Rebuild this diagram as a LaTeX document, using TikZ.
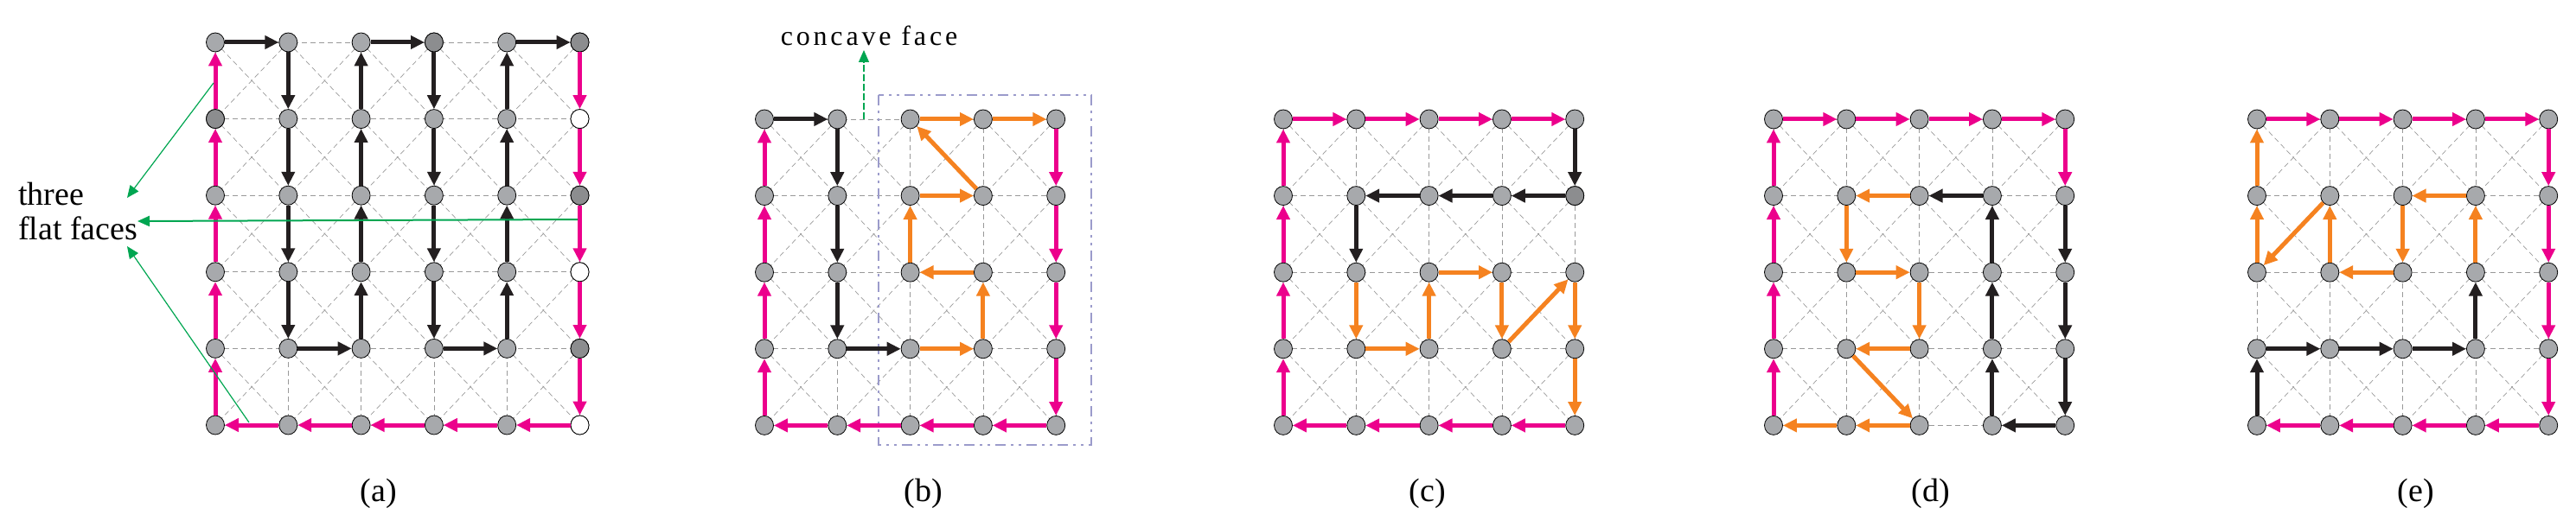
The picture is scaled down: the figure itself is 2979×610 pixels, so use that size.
\documentclass[tikz,border=0pt]{standalone}
\usepackage{fontspec}
\setmainfont{Liberation Serif}
\newfontfamily\spacedfont[LetterSpace=12]{Liberation Serif}
\usetikzlibrary{arrows.meta,shapes.geometric}
\definecolor{mg}{HTML}{EC008C}
\definecolor{og}{HTML}{F58220}
\definecolor{bk}{HTML}{231F20}
\definecolor{gn}{HTML}{00A651}
\definecolor{vg}{HTML}{A7A9AC}
\definecolor{vd}{HTML}{8C8D8F}
\definecolor{bx}{HTML}{9B9BCB}
\tikzset{
 vtx/.style={ellipse,draw=black,line width=0.4pt,fill=vg,inner sep=0pt,minimum width=10.5pt,minimum height=11pt},
 vtxdk/.style={vtx,fill=vd},
 vtxwh/.style={vtx,fill=white},
 gridl/.style={draw=gray!80,dashed,line width=0.35pt,dash pattern=on 3pt off 2pt},
 edg/.style={line width=2.5pt,-{Triangle[length=8pt,width=7.5pt]},shorten >=0pt},
 mgE/.style={edg,draw=mg,fill=mg},
 ogE/.style={edg,draw=og,fill=og},
 bkE/.style={edg,draw=bk,fill=bk},
 gnA/.style={draw=gn,line width=0.6pt,-{Triangle[length=7pt,width=6pt]}},
 lbl/.style={font=\fontsize{19}{20}\selectfont}
}
\newcommand\mkgrid[4]{% x0, y0, n
 \foreach \i in {0,...,#3}{
  \draw[gridl] ({#1},{#2+88.6*\i}) -- ({#1+84.3*#3},{#2+88.6*\i});
  \draw[gridl] ({#1+84.3*\i},{#2}) -- ({#1+84.3*\i},{#2+88.6*#3});}
 \foreach \i in {1,...,#3}{\foreach \j in {1,...,#3}{
  \draw[gridl] ({#1+84.3*(\i-1)},{#2+88.6*(\j-1)}) -- ({#1+84.3*\i},{#2+88.6*\j});
  \draw[gridl] ({#1+84.3*\i},{#2+88.6*(\j-1)}) -- ({#1+84.3*(\i-1)},{#2+88.6*\j});}}
 \foreach \i in {0,...,#3}{\foreach \j in {0,...,#3}{
  \node[vtx] (#4-\i-\j) at ({#1+84.3*\i},{#2+88.6*\j}) {};}}
}
\begin{document}
\begin{tikzpicture}[x=0.5pt,y=-0.5pt]
\path[use as bounding box] (0,0) rectangle (2979,610);
% panels
\mkgrid{249}{49}{5}{a}
\mkgrid{884}{138}{4}{b}
\mkgrid{1484}{138}{4}{c}
\mkgrid{2051}{138}{4}{d}
\mkgrid{2610}{138}{4}{e}
\foreach \n in {0-1,3-0,5-0,5-2,5-4} \node[vtxdk] at (a-\n) {};
\foreach \n in {5-1,5-3,5-5} \node[vtxwh] at (a-\n) {};
\node[vtxdk] at (c-4-1) {};
% (a)
\foreach \p/\q in {0-0/1-0,1-0/1-1,1-1/1-2,1-2/1-3,1-3/1-4,1-4/2-4,2-4/2-3,2-3/2-2,2-2/2-1,2-1/2-0,2-0/3-0,3-0/3-1,3-1/3-2,3-2/3-3,3-3/3-4,3-4/4-4,4-4/4-3,4-3/4-2,4-2/4-1,4-1/4-0,4-0/5-0}
 \draw[bkE] (a-\p) -- (a-\q);
\foreach \p/\q in {5-0/5-1,5-1/5-2,5-2/5-3,5-3/5-4,5-4/5-5,5-5/4-5,4-5/3-5,3-5/2-5,2-5/1-5,1-5/0-5,0-5/0-4,0-4/0-3,0-3/0-2,0-2/0-1,0-1/0-0}
 \draw[mgE] (a-\p) -- (a-\q);
\node[lbl,align=left,anchor=west] (tff) at (14,245) {three\\flat faces};
\coordinate (g1) at (247,96);
\coordinate (g2) at (668,254);
\coordinate (g3) at (288,489);
\draw[gnA] (g1) -- (147,229);
\draw[gnA,line width=1pt] (g2) -- (159,256);
\draw[gnA] (g3) -- (147,285);
\node[lbl] (la) at (438,571) {(a)};
% (b)
\draw[bx,line width=1.3pt,dash pattern=on 6pt off 3pt on 1.5pt off 3pt on 1.5pt off 3pt] (1016,110) rectangle (1262,515);
\foreach \p/\q in {0-0/1-0,1-0/1-1,1-1/1-2,1-2/1-3,1-3/2-3}
 \draw[bkE] (b-\p) -- (b-\q);
\foreach \p/\q in {2-3/3-3,3-3/3-2,3-2/2-2,2-2/2-1,2-1/3-1,3-1/2-0,2-0/3-0,3-0/4-0}
 \draw[ogE] (b-\p) -- (b-\q);
\foreach \p/\q in {4-0/4-1,4-1/4-2,4-2/4-3,4-3/4-4,4-4/3-4,3-4/2-4,2-4/1-4,1-4/0-4,0-4/0-3,0-3/0-2,0-2/0-1,0-1/0-0}
 \draw[mgE] (b-\p) -- (b-\q);
\coordinate (cf) at (999,138);
\draw[gnA,dashed,dash pattern=on 4pt off 1.5pt] (cf) -- (999,58);
\node[font=\spacedfont\fontsize{16}{18}\selectfont] (cft) at (1005,41) {concave face};
\node[lbl] (lb) at (1068,571) {(b)};
% (c)
\foreach \p/\q in {0-0/1-0,1-0/2-0,2-0/3-0,3-0/4-0,4-4/3-4,3-4/2-4,2-4/1-4,1-4/0-4,0-4/0-3,0-3/0-2,0-2/0-1,0-1/0-0}
 \draw[mgE] (c-\p) -- (c-\q);
\foreach \p/\q in {4-0/4-1,4-1/3-1,3-1/2-1,2-1/1-1,1-1/1-2}
 \draw[bkE] (c-\p) -- (c-\q);
\foreach \p/\q in {1-2/1-3,1-3/2-3,2-3/2-2,2-2/3-2,3-2/3-3,3-3/4-2,4-2/4-3,4-3/4-4}
 \draw[ogE] (c-\p) -- (c-\q);
\node[lbl] (lc) at (1651,571) {(c)};
% (d)
\foreach \p/\q in {0-0/1-0,1-0/2-0,2-0/3-0,3-0/4-0,4-0/4-1,0-4/0-3,0-3/0-2,0-2/0-1,0-1/0-0}
 \draw[mgE] (d-\p) -- (d-\q);
\foreach \p/\q in {4-1/4-2,4-2/4-3,4-3/4-4,4-4/3-4,3-4/3-3,3-3/3-2,3-2/3-1,3-1/2-1}
 \draw[bkE] (d-\p) -- (d-\q);
\foreach \p/\q in {2-1/1-1,1-1/1-2,1-2/2-2,2-2/2-3,2-3/1-3,1-3/2-4,2-4/1-4,1-4/0-4}
 \draw[ogE] (d-\p) -- (d-\q);
\node[lbl] (ld) at (2233,571) {(d)};
% (e)
\foreach \p/\q in {0-0/1-0,1-0/2-0,2-0/3-0,3-0/4-0,4-0/4-1,4-1/4-2,4-2/4-3,4-3/4-4,4-4/3-4,3-4/2-4,2-4/1-4,1-4/0-4}
 \draw[mgE] (e-\p) -- (e-\q);
\foreach \p/\q in {0-4/0-3,0-3/1-3,1-3/2-3,2-3/3-3,3-3/3-2}
 \draw[bkE] (e-\p) -- (e-\q);
\foreach \p/\q in {3-2/3-1,3-1/2-1,2-1/2-2,2-2/1-2,1-2/1-1,1-1/0-2,0-2/0-1,0-1/0-0}
 \draw[ogE] (e-\p) -- (e-\q);
\node[lbl] (le) at (2794,571) {(e)};
\end{tikzpicture}
\end{document}
